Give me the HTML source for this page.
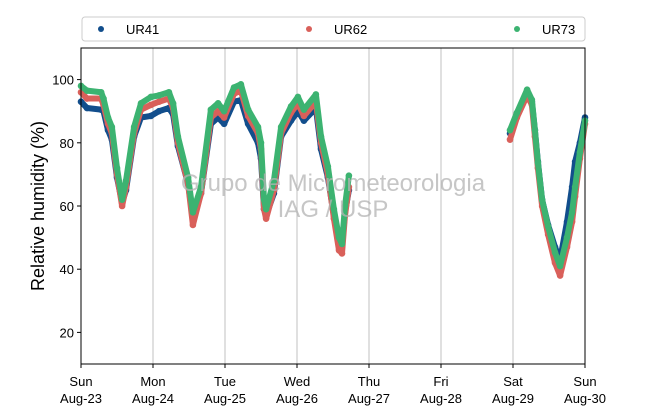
<!DOCTYPE html>
<html><head><meta charset="utf-8"><style>
body{margin:0;background:#fff;}
svg text{font-family:"Liberation Sans","DejaVu Sans",sans-serif;}
</style></head><body>
<svg id="chart" width="650" height="409" viewBox="0 0 650 409" xmlns="http://www.w3.org/2000/svg">
<g id="grid"></g>
<g id="marks"></g>
<g fill="#b4b4b4" font-size="24" text-anchor="middle" opacity="0.75">
<text x="333" y="191">Grupo de Micrometeorologia</text>
<text x="333" y="217">IAG / USP</text>
</g>
<rect x="81" y="48" width="504" height="316" fill="none" stroke="#000" stroke-width="1"/>
<g id="axes"></g>
<text transform="translate(44,206) rotate(-90)" text-anchor="middle" font-size="18">Relative humidity (%)</text>
<g>
<rect x="82" y="17" width="503" height="24" rx="3" fill="#fff" stroke="#ccc"/>
<g><circle cx="101" cy="29" r="3" fill="#124e8c"/><text x="126" y="34" font-size="13">UR41</text></g>
<g><circle cx="309" cy="29" r="3" fill="#d9605a"/><text x="334" y="34" font-size="13">UR62</text></g>
<g><circle cx="517" cy="29" r="3" fill="#3cb371"/><text x="542" y="34" font-size="13">UR73</text></g>
</g>
</svg>
<script>
const dayLabels=["Sun","Mon","Tue","Wed","Thu","Fri","Sat","Sun"];
const dateLabels=["Aug-23","Aug-24","Aug-25","Aug-26","Aug-27","Aug-28","Aug-29","Aug-30"];
const yTicks=[20,40,60,80,100];
const t1=[0,2,6.7,7.5,9,10.3,12,13.7,15,17.7,20,23.3,26,29.3,30.7,32.3,35.7,37.3,40,43.3,45.7,47.7,51,53.3,55.7,59,60,61,61.7,64.3,66.7,70,72.3,74.3,78.3,80,82.3,84.3,86,87,88,89.3];
const ur73a=[98,96.5,96,94,88,85,72,62,68,85,92.5,94.5,95,96,92.5,82,69,58,66,90.5,92.5,90,97.5,98.5,90.5,85,80,62,59,68,85,91.5,94.5,90.5,95.3,82,72.5,59,50,48,60,69.6];
const ur62a=[96,94,94,92,86,83,70,60,66,83,90.5,92,93,94,91,80,67,54,64,88,90,88,95.5,96.5,88.5,83,78,59,56,65,83,89.5,92.5,88.5,93,80,70,56,46,45,57,66];
const ur41a=[93,91,90.5,90,84,81,69,61,65,82,88,88.5,90,91,89,79,67,56,64,86,88,86,93,93.5,86,80,75,59,57,64,82,87,90,87,91,78,69,57,48,47,58,65];
const t2=[143,145.3,148.7,150.3,151.3,152.3,153.7,155.7,158,159.7,162,163.7,164.7,166.3,168];
const ur73b=[84,89.5,96.8,93.6,84,73.7,62,53.5,45.3,41,50,58,66,77,87];
const ur62b=[81,88,95,92,82,72,60,51,42,38,47,55,63,75,86];
const ur41b=[83,89,96,93,84,74,62,54,47,43,55,66,74,80,88];

const NS="http://www.w3.org/2000/svg";
const X0=81,X1=585,Y0=364,Y1=48,TMAX=168,VMIN=10,VMAX=110;
function xs(t){return X0+(X1-X0)*t/TMAX;}
function ys(v){return Y0-(Y0-Y1)*(v-VMIN)/(VMAX-VMIN);}
function mk(tag,attrs,parent){const e=document.createElementNS(NS,tag);for(const k in attrs)e.setAttribute(k,attrs[k]);parent.appendChild(e);return e;}
const grid=document.getElementById('grid'),axes=document.getElementById('axes'),marks=document.getElementById('marks');
dayLabels.forEach((d,i)=>{
  const x=xs(i*24);
  if(i>0&&i<dayLabels.length-1){const g=mk('line',{x1:x,x2:x,y1:Y1,y2:Y0,stroke:'#c0c0c0','stroke-width':1},grid);
  
  }
  const tk=mk('line',{x1:x,x2:x,y1:Y0,y2:Y0+4,stroke:'#000'},axes);
  
  
  const t=mk('text',{x:x,y:386,'text-anchor':'middle','font-size':13},axes);
  
  
  t.textContent=d;
  const t2e=mk('text',{x:x,y:403,'text-anchor':'middle','font-size':13},axes);
  
  
  t2e.textContent=dateLabels[i];
});
yTicks.forEach(v=>{
  const y=ys(v);
  const tk=mk('line',{x1:X0-4,x2:X0,y1:y,y2:y,stroke:'#000'},axes);
  
  
  const t=mk('text',{x:X0-7,y:y+5,'text-anchor':'end','font-size':13},axes);
  
  
  t.textContent=v;
});
function series(name,color,segs){
  const g=mk('g',{},marks);
  
  
  segs.forEach(([ts,vs])=>{
    const pts=ts.map((t,i)=>xs(t)+','+ys(vs[i])).join(' ');
    const pl=mk('polyline',{points:pts,fill:'none',stroke:color,'stroke-width':6,'stroke-linejoin':'round','stroke-linecap':'round'},g);
    
    
    ts.forEach((t,i)=>{
      const c=mk('circle',{cx:xs(t),cy:ys(vs[i]),r:3.3,fill:color},g);
      
      
    });
  });
}
series('ur41','#124e8c',[[t1,ur41a],[t2,ur41b]]);
series('ur62','#d9605a',[[t1,ur62a],[t2,ur62b]]);
series('ur73','#3cb371',[[t1,ur73a],[t2,ur73b]]);
</script>
</body></html>
